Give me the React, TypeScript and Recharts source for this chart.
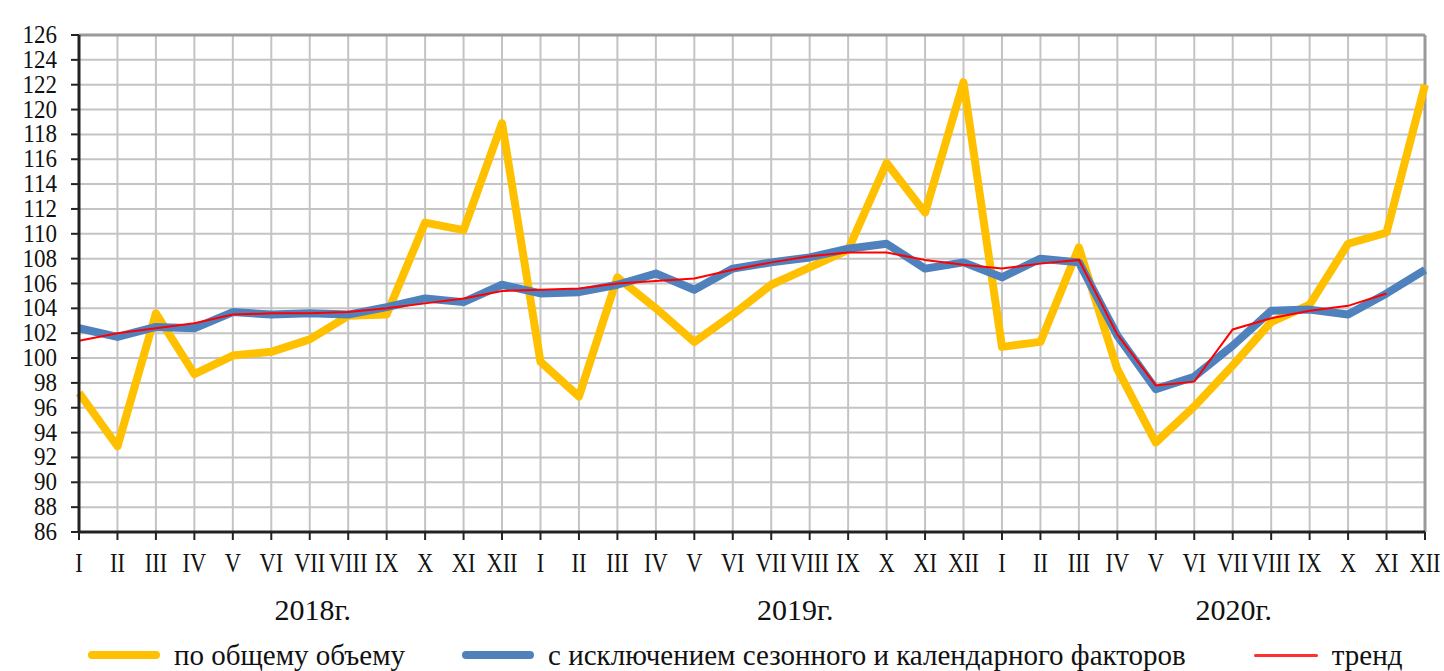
import React from 'react';
import {
  LineChart,
  Line,
  XAxis,
  YAxis,
  CartesianGrid,
  Legend,
  ReferenceLine,
} from 'recharts';

const MONTHS = ['I', 'II', 'III', 'IV', 'V', 'VI', 'VII', 'VIII', 'IX', 'X', 'XI', 'XII'];
const YEARS = ['2018г.', '2019г.', '2020г.'];

// по общему объему
const TOTAL = [
  97.2, 92.9, 103.6, 98.7, 100.2, 100.5, 101.5, 103.4, 103.5, 110.9, 110.3, 118.9,
  99.7, 96.9, 106.5, 104.0, 101.3, 103.5, 105.9, 107.3, 108.7, 115.7, 111.7, 122.2,
  100.9, 101.3, 108.9, 99.1, 93.2, 96.1, 99.4, 102.9, 104.3, 109.2, 110.1, 122.0,
];

// с исключением сезонного и календарного факторов
const ADJUSTED = [
  102.4, 101.7, 102.5, 102.4, 103.7, 103.5, 103.6, 103.5, 104.1, 104.8, 104.5, 105.9,
  105.2, 105.3, 105.9, 106.8, 105.5, 107.2, 107.7, 108.1, 108.8, 109.2, 107.2, 107.7,
  106.5, 108.0, 107.7, 101.8, 97.5, 98.5, 101.0, 103.8, 103.9, 103.5, 105.2, 107.1,
];

// тренд
const TREND: (number | null)[] = [
  101.4, 102.0, 102.4, 102.8, 103.5, 103.6, 103.6, 103.7, 104.0, 104.4, 104.8, 105.4,
  105.5, 105.6, 106.0, 106.2, 106.4, 107.1, 107.7, 108.2, 108.5, 108.5, 107.9, 107.5,
  107.2, 107.6, 107.9, 101.9, 97.8, 98.1, 102.3, 103.2, 103.8, 104.2, 105.2, null,
];

const Y_TICKS = [86, 88, 90, 92, 94, 96, 98, 100, 102, 104, 106, 108, 110, 112, 114, 116, 118, 120, 122, 124, 126];

// small shift of each year caption from the VII tick
const YEAR_DX = [3, 24, 1];

const data = TOTAL.map((v, i) => ({
  key: `${YEARS[Math.floor(i / 12)]}-${MONTHS[i % 12]}`,
  total: v,
  adjusted: ADJUSTED[i],
  trend: TREND[i],
}));

const FONT = "'Liberation Serif', 'Times New Roman', serif";

const LEGEND_ITEMS = [
  { label: 'по общему объему', color: '#FFC000', width: 8, swatch: 72, gap: 57 },
  { label: 'с исключением сезонного и календарного факторов', color: '#4F81BD', width: 8, swatch: 72, gap: 68 },
  { label: 'тренд', color: '#FF3030', width: 3, swatch: 64, gap: 0 },
];

const MonthTick = (props: any) => {
  const { x, y, payload } = props;
  const i = payload.index;
  const yi = Math.floor(i / 12);
  return (
    <g>
      <text
        transform={`translate(${x},${y + 30}) scale(0.8,1)`}
        textAnchor="middle"
        fontFamily="Liberation Serif"
        style={{ fontFamily: FONT }}
        fontSize={28}
        fill="#111"
      >
        {MONTHS[i % 12]}
      </text>
      {i % 12 === 6 && (
        <text
          x={x + YEAR_DX[yi]}
          y={y + 78}
          textAnchor="middle"
          fontFamily="Liberation Serif"
          style={{ fontFamily: FONT }}
          fontSize={30}
          fill="#111"
        >
          {YEARS[yi]}
        </text>
      )}
    </g>
  );
};

const ValueTick = (props: any) => {
  const { x, y, payload } = props;
  return (
    <text
      transform={`translate(${x},${y + 8}) scale(0.92,1)`}
      textAnchor="end"
      fontFamily="Liberation Serif"
      style={{ fontFamily: FONT }}
      fontSize={25}
      fill="#111"
    >
      {payload.value}
    </text>
  );
};

const renderLegend = () => (
  <div style={{ display: 'flex', alignItems: 'center', fontFamily: FONT, fontSize: 29, color: '#111', paddingLeft: 88 }}>
    {LEGEND_ITEMS.map((it) => (
      <div key={it.label} style={{ display: 'flex', alignItems: 'center', marginRight: it.gap }}>
        <div
          style={{
            width: it.swatch,
            height: it.width,
            borderRadius: it.width / 2,
            background: it.color,
            marginRight: 14,
          }}
        />
        <span style={{ whiteSpace: 'nowrap', lineHeight: '30px' }}>{it.label}</span>
      </div>
    ))}
  </div>
);

export default function App() {
  return (
    <div style={{ position: 'absolute', left: 0, top: 0, background: '#fff' }}>
      <LineChart
        width={1444}
        height={671}
        data={data}
        margin={{ top: 35, right: 19, bottom: 39, left: 0 }}
      >
        <CartesianGrid stroke="#c4c4c4" strokeWidth={2} />
        <ReferenceLine y={126} stroke="#9a9a9a" strokeWidth={3} />
        <ReferenceLine x={data[data.length - 1].key} stroke="#9a9a9a" strokeWidth={3} />
        <XAxis
          dataKey="key"
          interval={0}
          height={100}
          tickSize={8}
          tickMargin={2}
          tick={<MonthTick />}
          axisLine={{ stroke: '#222', strokeWidth: 3 }}
          tickLine={{ stroke: '#222', strokeWidth: 2 }}
        />
        <YAxis
          width={79}
          domain={[86, 126]}
          ticks={Y_TICKS}
          interval={0}
          tickSize={8}
          tickMargin={14}
          tick={<ValueTick />}
          axisLine={{ stroke: '#222', strokeWidth: 3 }}
          tickLine={{ stroke: '#222', strokeWidth: 2 }}
        />
        <Legend
          verticalAlign="middle"
          layout="horizontal"
          align="center"
          content={renderLegend}
          wrapperStyle={{ top: 640, left: 0, width: 1444 }}
        />
        <Line
          type="linear"
          dataKey="total"
          name="по общему объему"
          stroke="#FFC000"
          strokeWidth={8}
          strokeLinejoin="round"
          dot={false}
          isAnimationActive={false}
        />
        <Line
          type="linear"
          dataKey="adjusted"
          name="с исключением сезонного и календарного факторов"
          stroke="#4F81BD"
          strokeWidth={8}
          strokeLinejoin="round"
          dot={false}
          isAnimationActive={false}
        />
        <Line
          type="linear"
          dataKey="trend"
          name="тренд"
          stroke="#FF0000"
          strokeWidth={2}
          dot={false}
          isAnimationActive={false}
        />
      </LineChart>
    </div>
  );
}
